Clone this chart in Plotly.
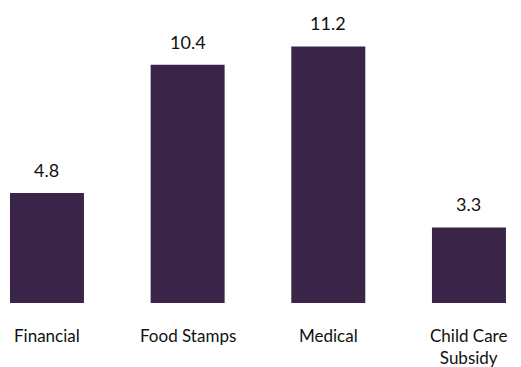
import plotly.graph_objects as go

# ── Data ─────────────────────────────────────────────
categories = ['Financial', 'Food Stamps', 'Medical', 'Child Care<br>Subsidy']
values = [4.8, 10.4, 11.2, 3.3]

BAR = '#3a2548'
TXT = '#111111'
FONT = 'Lato, "Open Sans", Arial, sans-serif'

x = list(range(len(categories)))

fig = go.Figure(go.Bar(
    x=x, y=values,
    width=0.526,
    marker=dict(color=BAR, line=dict(width=0)),
    hoverinfo='skip',
))

# value labels above the bars
for xi, v in zip(x, values):
    fig.add_annotation(x=xi, y=v, text=f'{v}', showarrow=False,
                       yanchor='middle', yshift=23,
                       font=dict(size=18, color=TXT, family=FONT))

# category labels under the bars
for xi, c in zip(x, categories):
    fig.add_annotation(x=xi, y=0, text=c, showarrow=False,
                       yanchor='top', yshift=-20,
                       font=dict(size=17, color=TXT, family=FONT))

fig.update_layout(
    width=521, height=367,
    paper_bgcolor='white', plot_bgcolor='white',
    margin=dict(l=0, r=0, t=0, b=0),
    showlegend=False,
    hovermode=False,
    xaxis=dict(range=[-0.334, 3.370], visible=False, fixedrange=True),
    yaxis=dict(range=[-2.795, 13.23], visible=False, fixedrange=True),
)

fig.write_html('out.html', config={'displayModeBar': False},
               post_script="document.body.style.margin='0';")
